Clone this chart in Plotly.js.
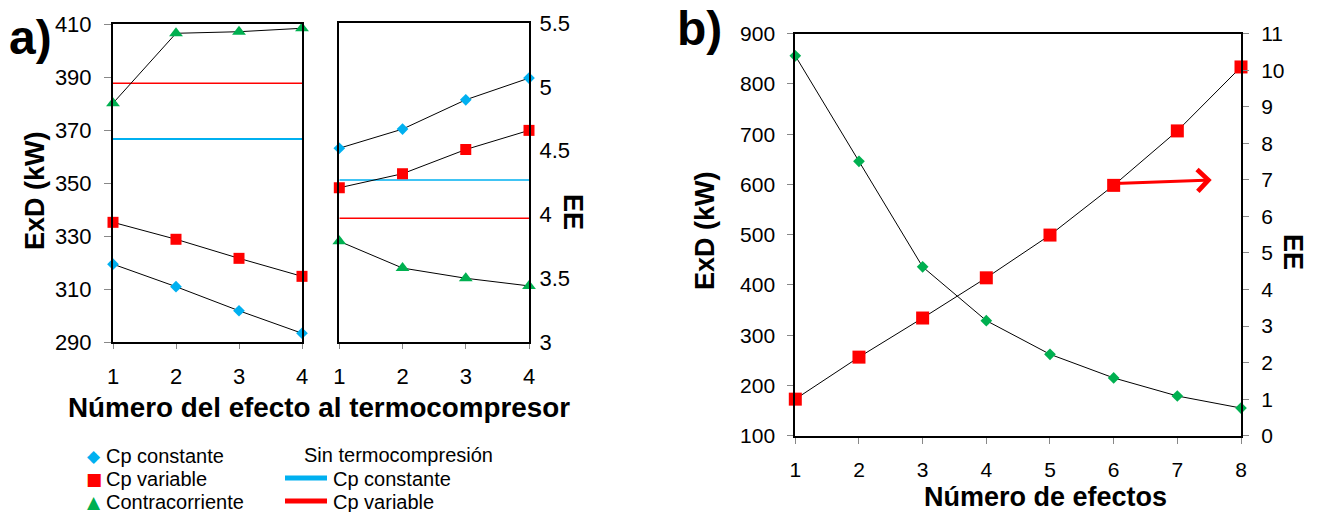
<!DOCTYPE html>
<html><head><meta charset="utf-8">
<script src="https://cdn.plot.ly/plotly-3.0.1.min.js"></script>
<style>html,body{margin:0;padding:0;background:#fff;} #chart{width:1317px;height:512px;}</style>
</head><body><div id="chart"></div>
<script>
// ---------- Panel a data ----------
const efectoTermo = [1, 2, 3, 4];
const exdCpConstante = [319.4, 310.9, 301.8, 293.3];
const exdCpVariable = [335.2, 328.8, 321.6, 314.8];
const exdContracorriente = [380.2, 406.6, 407.2, 408.5];
const eeCpConstante = [4.52, 4.67, 4.90, 5.07];
const eeCpVariable = [4.21, 4.32, 4.51, 4.66];
const eeContracorriente = [3.79, 3.58, 3.50, 3.44];
const sinX = [1, 4];
const exdSinCpConstante = [366.7, 366.7];
const exdSinCpVariable = [387.7, 387.7];
const eeSinCpConstante = [4.27, 4.27];
const eeSinCpVariable = [3.97, 3.97];
const exdTicksA = [290, 310, 330, 350, 370, 390, 410];
const eeTicksA = [3, 3.5, 4, 4.5, 5, 5.5];
// ---------- Panel b data ----------
const numEfectos = [1, 2, 3, 4, 5, 6, 7, 8];
const exdEfectos = [856, 646, 436, 329, 262, 215, 179, 155];
const eeEfectos = [1.00, 2.15, 3.22, 4.32, 5.49, 6.85, 8.34, 10.09];
const exdTicksB = [100, 200, 300, 400, 500, 600, 700, 800, 900];
const eeTicksB = [0, 1, 2, 3, 4, 5, 6, 7, 8, 9, 10, 11];
const arrowFrom = [6, 6.9];
const arrowTo = [7.54, 7.0];
// ---------- Legend labels ----------
const legendMarkers = ['Cp constante', 'Cp variable', 'Contracorriente'];
const legendLinesTitle = 'Sin termocompresión';
const legendLines = ['Cp constante', 'Cp variable'];

const W = 1317, H = 512;
const px = x => x / W;
const py = y => 1 - y / H;
const FONT = 'Liberation Sans, Arial, sans-serif';
const BLUE = '#00B0F0', RED = '#FF0000', GREEN = '#00B050';

function hline(x, y, color, width, xa, ya) {
  return {x: x, y: y, mode: 'lines', line: {color: color, width: width}, xaxis: xa, yaxis: ya, hoverinfo: 'skip', showlegend: false};
}
function series(x, y, symbol, size, color, xa, ya) {
  return {x: x, y: y, mode: 'lines+markers', line: {color: '#000', width: 1},
    marker: {symbol: symbol, size: size, color: color, line: {width: 0}},
    xaxis: xa, yaxis: ya, cliponaxis: false, showlegend: false};
}

const traces = [
  hline(sinX, exdSinCpConstante, BLUE, 2, 'x', 'y'),
  hline(sinX, exdSinCpVariable, RED, 1.5, 'x', 'y'),
  series(efectoTermo, exdCpConstante, 'diamond', 9, BLUE, 'x', 'y'),
  series(efectoTermo, exdCpVariable, 'square', 11, RED, 'x', 'y'),
  series(efectoTermo, exdContracorriente, 'triangle-up', 12, GREEN, 'x', 'y'),
  hline(sinX, eeSinCpConstante, BLUE, 1.5, 'x2', 'y2'),
  hline(sinX, eeSinCpVariable, RED, 1.5, 'x2', 'y2'),
  series(efectoTermo, eeCpConstante, 'diamond', 9, BLUE, 'x2', 'y2'),
  series(efectoTermo, eeCpVariable, 'square', 11, RED, 'x2', 'y2'),
  series(efectoTermo, eeContracorriente, 'triangle-up', 12, GREEN, 'x2', 'y2'),
  series(numEfectos, exdEfectos, 'diamond', 9, GREEN, 'x3', 'y3'),
  series(numEfectos, eeEfectos, 'square', 13, RED, 'x3', 'y4')
];

const axBase = {showgrid: false, zeroline: false, showline: true, linecolor: '#000', linewidth: 2,
  mirror: true, ticks: 'outside', tickcolor: '#888', tickwidth: 1, automargin: false, fixedrange: true,
  tickfont: {family: FONT, size: 22, color: '#000'}};
const fontB = {family: FONT, size: 21, color: '#000'};

const layout = {
  width: W, height: H, margin: {l: 0, r: 0, t: 0, b: 0},
  paper_bgcolor: '#fff', plot_bgcolor: 'rgba(0,0,0,0)', showlegend: false,
  font: {family: FONT, color: '#000'},
  xaxis: Object.assign({}, axBase, {domain: [px(113), px(302)], range: [1, 4], tickvals: efectoTermo, ticklen: 5, anchor: 'y', ticklabelstandoff: 9}),
  yaxis: Object.assign({}, axBase, {domain: [py(342), py(24.3)], range: [290, 410], tickvals: exdTicksA, ticklen: 7, anchor: 'x', ticklabelstandoff: 8}),
  xaxis2: Object.assign({}, axBase, {domain: [px(339.3), px(529)], range: [1, 4], tickvals: efectoTermo, ticklen: 5, anchor: 'y2', ticklabelstandoff: 9}),
  yaxis2: Object.assign({}, axBase, {domain: [py(342), py(23.3)], range: [3, 5.5], tickvals: eeTicksA, ticks: '', side: 'right', anchor: 'x2', ticklabelstandoff: 4}),
  xaxis3: Object.assign({}, axBase, {domain: [px(795.3), px(1241)], range: [1, 8], tickvals: numEfectos, ticklen: 6, anchor: 'y3', ticklabelstandoff: 8, tickfont: fontB}),
  yaxis3: Object.assign({}, axBase, {domain: [py(435.7), py(33.7)], range: [100, 900], tickvals: exdTicksB, ticklen: 6, anchor: 'x3', ticklabelstandoff: 8, tickfont: fontB}),
  yaxis4: Object.assign({}, axBase, {domain: [py(435.7), py(33.7)], range: [0, 11], tickvals: eeTicksB, ticklen: 6, anchor: 'x3', overlaying: 'y3', side: 'right', ticklabelstandoff: 8, mirror: false, tickfont: fontB}),
  annotations: [],
  shapes: []
};

function ann(text, x, y, size, opts) {
  return Object.assign({text: text, x: px(x), y: py(y), xref: 'paper', yref: 'paper', showarrow: false,
    xanchor: 'center', yanchor: 'middle', font: {family: FONT, size: size, color: '#000'}}, opts || {});
}
const A = layout.annotations;
A.push(ann('<b>a)</b>', 30, 37, 48));
A.push(ann('<b>b)</b>', 700, 28, 48));
A.push(ann('<b>ExD (kW)</b>', 35, 191, 27, {textangle: -90}));
A.push(ann('<b>EE</b>', 573, 212, 27, {textangle: 90}));
A.push(ann('<b>Número del efecto al termocompresor</b>', 319, 407, 27.8, {borderpad: 0}));
A.push(ann('<b>ExD (kW)</b>', 705, 231, 27, {textangle: -90}));
A.push(ann('<b>EE</b>', 1293, 252, 27, {textangle: 90}));
A.push(ann('<b>Número de efectos</b>', 1045, 497, 27, {borderpad: 0}));
// red arrow in panel b
A.push({x: arrowTo[0], y: arrowTo[1], ax: arrowFrom[0], ay: arrowFrom[1], xref: 'x3', yref: 'y4', axref: 'x3', ayref: 'y4',
  text: '', showarrow: true, arrowhead: 4, arrowsize: 1.4, arrowwidth: 3, arrowcolor: RED, standoff: 0, startstandoff: 0});

// legend (manual)
const legY = [456, 479, 502];
const glyphs = ['◆', '■', '▲'];
const glyphColors = [BLUE, RED, GREEN];
legendMarkers.forEach((t, i) => {
  A.push(ann(glyphs[i], 94, legY[i], 17, {font: {family: 'DejaVu Sans', size: 17, color: glyphColors[i]}}));
  A.push(ann(t, 104, legY[i], 20, {xanchor: 'left'}));
});
A.push(ann(legendLinesTitle, 302, 455, 20, {xanchor: 'left'}));
const lineColors = [BLUE, RED];
legendLines.forEach((t, i) => {
  const yy = legY[i + 1] - 1;
  layout.shapes.push({type: 'line', xref: 'paper', yref: 'paper', x0: px(285), x1: px(327), y0: py(yy), y1: py(yy),
    line: {color: lineColors[i], width: 5}});
  A.push(ann(t, 331, legY[i + 1], 20, {xanchor: 'left'}));
});

Plotly.newPlot('chart', traces, layout, {staticPlot: true, displayModeBar: false});
</script>
</body></html>
